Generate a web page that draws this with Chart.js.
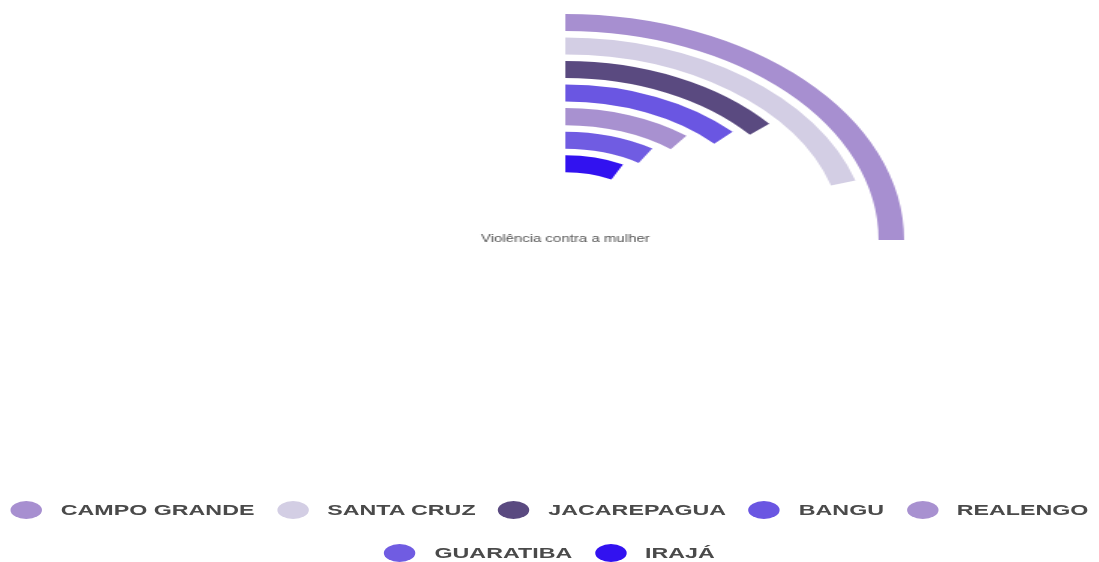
<!DOCTYPE html>
<html>
<head>
<meta charset="utf-8">
<script src="https://cdn.jsdelivr.net/npm/chart.js@4.4.1/dist/chart.umd.min.js"></script>
<style>
html,body{margin:0;padding:0;background:#fff;overflow:hidden;width:1099px;height:562px}
#wrap{position:absolute;left:0;top:0;width:733px;height:562px;transform:scaleX(1.4993);transform-origin:0 0}
#chartBox{position:absolute;left:0;top:0;width:733px;height:562px}
#legend{position:absolute;left:-20px;top:488.5px;width:773px;display:flex;flex-wrap:wrap;justify-content:center;
  font:bold 15.5px "Liberation Sans",Arial,sans-serif;color:#4a4a4a}
.item{display:flex;align-items:center;height:43px;margin:0 7.5px;white-space:nowrap}
.mk{width:21px;height:18px;border-radius:50%;margin-right:12.5px;flex:none}
</style>
</head>
<body>
<div id="wrap">
  <div id="chartBox"><canvas id="c"></canvas></div>
  <div id="legend"></div>
</div>
<script>
const seriesName = 'Violência contra a mulher';
const categories = ['CAMPO GRANDE', 'SANTA CRUZ', 'JACAREPAGUA', 'BANGU', 'REALENGO', 'GUARATIBA', 'IRAJÁ'];
const values = [100, 81, 55, 51, 42, 36, 30];
const colors = ['#a78fd0', '#d3cee4', '#5a4a80', '#6a56e2', '#a891d0', '#705ce2', '#3212f0'];
const MAX_VALUE = 100;

const datasets = [];
categories.forEach((name, i) => {
  if (i > 0) {
    datasets.push({ label: '', data: [], weight: 6.5, backgroundColor: 'rgba(0,0,0,0)', borderWidth: 0 });
  }
  datasets.push({
    label: name,
    data: [values[i], MAX_VALUE - values[i]],
    backgroundColor: [colors[i], 'rgba(0,0,0,0)'],
    borderWidth: 0,
    weight: 17
  });
});

const centerLabel = {
  id: 'centerLabel',
  afterDatasetsDraw(chart) {
    const arc = chart.getDatasetMeta(0).data[0];
    if (!arc) return;
    const ctx = chart.ctx;
    ctx.save();
    ctx.font = '10px "Liberation Sans", Arial, sans-serif';
    ctx.fillStyle = '#555555';
    ctx.textAlign = 'center';
    ctx.textBaseline = 'middle';
    ctx.fillText(seriesName, arc.x, arc.y - 1);
    ctx.restore();
  }
};

const htmlLegend = {
  id: 'htmlLegend',
  afterUpdate(chart) {
    const box = document.getElementById('legend');
    box.innerHTML = '';
    categories.forEach((name, i) => {
      const item = document.createElement('div');
      item.className = 'item';
      const mk = document.createElement('span');
      mk.className = 'mk';
      mk.style.background = colors[i];
      const tx = document.createElement('span');
      tx.textContent = name;
      item.appendChild(mk);
      item.appendChild(tx);
      box.appendChild(item);
    });
  }
};

new Chart(document.getElementById('c'), {
  type: 'doughnut',
  data: { labels: ['valor', 'restante'], datasets },
  options: {
    responsive: true,
    maintainAspectRatio: false,
    animation: false,
    events: [],
    circumference: 90,
    rotation: 0,
    cutout: '30%',
    borderWidth: 0,
    layout: { padding: { left: 377, top: 14, right: 130, bottom: 322 } },
    plugins: { legend: { display: false }, tooltip: { enabled: false } }
  },
  plugins: [centerLabel, htmlLegend]
});
</script>
</body>
</html>
